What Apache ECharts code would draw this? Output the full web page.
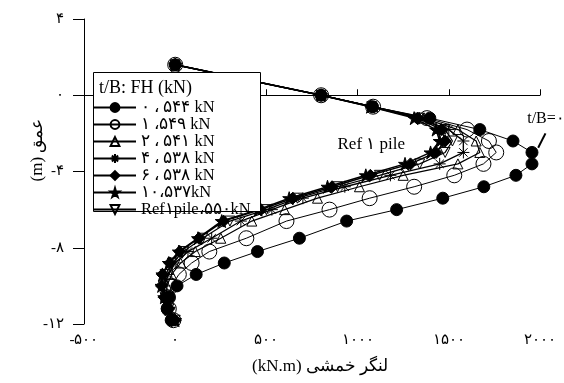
<!DOCTYPE html>
<html>
<head>
<meta charset="utf-8">
<script src="https://cdn.jsdelivr.net/npm/echarts@6/dist/echarts.min.js"></script>
<style>
  html, body { margin: 0; padding: 0; background: #fff; }
  #chart { width: 564px; height: 383px; }
</style>
</head>
<body>
<div id="chart"></div>
<script>
// Bending moment (kN.m) along the pile depth (m) for several t/B ratios
const depths = [1.6, 0, -0.6, -1.2, -1.8, -2.4, -3.0, -3.6, -4.2, -4.8, -5.4, -6.0, -6.6, -7.5, -8.2, -8.8, -9.4, -10.0, -10.6, -11.2, -11.8];

const tb0  = [0, 800, 1082, 1396, 1670, 1852, 1956, 1956, 1868, 1692, 1467, 1214, 940, 681, 451, 269, 115, 10, -33, -44, -22];
const tb1  = [0, 800, 1085, 1380, 1600, 1720, 1760, 1690, 1530, 1310, 1066, 846, 610, 390, 187, 90, 20, -20, -40, -35, -10];
const tb2  = [0, 800, 1085, 1360, 1550, 1650, 1670, 1550, 1250, 1010, 780, 600, 420, 250, 110, 30, -20, -45, -50, -35, -10];
const tb4  = [0, 800, 1080, 1340, 1500, 1580, 1580, 1450, 1180, 930, 700, 530, 360, 200, 70, 0, -40, -60, -60, -40, -5];
const tb6  = [0, 800, 1075, 1330, 1460, 1480, 1430, 1290, 1070, 860, 645, 470, 265, 130, 25, -30, -70, -75, -60, -35, 0];
const tb10 = [0, 800, 1070, 1310, 1430, 1450, 1400, 1260, 1045, 835, 625, 455, 255, 125, 20, -35, -70, -75, -60, -35, 0];
const ref1 = [0, 800, 1078, 1340, 1480, 1520, 1480, 1340, 1120, 890, 670, 500, 300, 150, 45, -15, -55, -65, -55, -35, 0];

const seriesNames = [
  '۰ ، ۵۴۴ kN',
  '۱ ،۵۴۹ kN',
  '۲ ، ۵۴۱ kN',
  '۴ ، ۵۳۸ kN',
  '۶ ، ۵۳۸ kN',
  '۱۰،۵۳۷kN',
  'Ref۱pile،۵۵۰kN'
];

const xTickLabels = { '-500': '-۵۰۰', '0': '۰', '500': '۵۰۰', '1000': '۱۰۰۰', '1500': '۱۵۰۰', '2000': '۲۰۰۰' };
const yTickLabels = { '4': '۴', '0': '۰', '-4': '-۴', '-8': '-۸', '-12': '-۱۲' };

const legendTitle = 't/B: FH (kN)';
const refLabel = 'Ref ۱ pile';
const tbLabel = 't/B=۰';
const xName = '(kN.m) لنگر خمشی';
const yName = '(m) عمق';

const SERIF = '"Liberation Serif", "DejaVu Serif", serif';

const pairs = vals => vals.map((v, i) => [v, depths[i]]);

const asteriskPath = 'path://M5,0 L5,10 M0,5 L10,5 M1.5,1.5 L8.5,8.5 M8.5,1.5 L1.5,8.5';
const starPath = 'path://M50,0 L61,35 L98,35 L68,57 L79,91 L50,70 L21,91 L32,57 L2,35 L39,35 Z';
const downTriPath = 'path://M0,0 L10,0 L5,9 Z';

function lineSeries(name, vals, symbol, size, filled, width) {
  return {
    name: name,
    type: 'line',
    data: pairs(vals),
    symbol: symbol,
    symbolSize: size,
    showAllSymbol: true,
    lineStyle: { color: '#000', width: width },
    itemStyle: {
      color: filled ? '#000' : 'rgba(0,0,0,0)',
      borderColor: '#000',
      borderWidth: 1
    },
    emphasis: { disabled: true },
    animation: false,
    z: 2
  };
}

const chart = echarts.init(document.getElementById('chart'), null, { renderer: 'canvas' });

const option = {
  backgroundColor: '#fff',
  animation: false,
  grid: { left: 84, right: 24, top: 19, bottom: 59, containLabel: false },
  xAxis: {
    type: 'value',
    min: -500, max: 2000, interval: 500,
    axisLine: { show: true, lineStyle: { color: '#000', width: 1 } },
    axisTick: { show: true, inside: true, length: 6, lineStyle: { color: '#000' } },
    axisLabel: {
      color: '#000', fontFamily: SERIF, fontSize: 15, margin: 9,
      formatter: v => xTickLabels[String(v)] || ''
    },
    splitLine: { show: false }
  },
  yAxis: {
    type: 'value',
    min: -12, max: 4, interval: 4,
    axisLine: { show: true, onZero: false, lineStyle: { color: '#000', width: 1 } },
    axisTick: { show: true, inside: false, length: 11, lineStyle: { color: '#000' } },
    axisLabel: {
      color: '#000', fontFamily: SERIF, fontSize: 15, margin: 20,
      formatter: v => yTickLabels[String(v)] || ''
    },
    splitLine: { show: false }
  },
  legend: {
    orient: 'vertical',
    left: 93, top: 99,
    padding: 0,
    itemWidth: 42, itemHeight: 11,
    itemGap: 0,
    textStyle: { color: '#000', fontFamily: SERIF, fontSize: 16.5, lineHeight: 15.3 },
    data: seriesNames,
    z: 10
  },
  series: [
    lineSeries(seriesNames[6], ref1, downTriPath, 10, false, 1.2),
    lineSeries(seriesNames[1], tb1, 'circle', 15, false, 1),
    lineSeries(seriesNames[2], tb2, 'triangle', 10, false, 1.2),
    lineSeries(seriesNames[3], tb4, asteriskPath, 12, false, 1.3),
    lineSeries(seriesNames[5], tb10, starPath, 13, true, 1.5),
    lineSeries(seriesNames[4], tb6, 'diamond', 12, true, 1.5),
    lineSeries(seriesNames[0], tb0, 'circle', 12, true, 1)
  ]
};

chart.setOption(option);

// Legend frame, title and text annotations placed from data coordinates
const toPx = (x, y) => chart.convertToPixel({ gridIndex: 0 }, [x, y]);
const refPos = toPx(890, -2.6);
const tbPos = toPx(1930, -1.25);
const leadA = toPx(2030, -2.0);
const leadB = toPx(1990, -2.75);

chart.setOption({
  graphic: [
    {
      type: 'rect', z: 5, silent: true,
      shape: { x: 93.5, y: 72.5, width: 167, height: 139 },
      style: { fill: '#fff', stroke: '#000', lineWidth: 1 }
    },
    {
      type: 'text', z: 11, silent: true,
      x: 99, y: 88,
      style: { text: legendTitle, fill: '#000', font: '18px ' + SERIF, verticalAlign: 'middle', align: 'left' }
    },
    {
      type: 'text', z: 11, silent: true,
      x: refPos[0], y: refPos[1],
      style: { text: refLabel, fill: '#000', font: '17px ' + SERIF, verticalAlign: 'middle', align: 'left' }
    },
    {
      type: 'text', z: 11, silent: true,
      x: tbPos[0], y: tbPos[1],
      style: { text: tbLabel, fill: '#000', font: '16px ' + SERIF, verticalAlign: 'middle', align: 'left' }
    },
    {
      type: 'line', z: 11, silent: true,
      shape: { x1: leadA[0], y1: leadA[1], x2: leadB[0], y2: leadB[1] },
      style: { stroke: '#000', lineWidth: 2 }
    },
    {
      type: 'text', z: 11, silent: true,
      x: 320, y: 367,
      style: { text: xName, fill: '#000', font: '17px ' + SERIF, verticalAlign: 'middle', align: 'center' }
    },
    {
      type: 'text', z: 11, silent: true,
      x: 38, y: 150, rotation: Math.PI / 2,
      style: { text: yName, fill: '#000', font: '17px ' + SERIF, verticalAlign: 'middle', align: 'center' }
    }
  ]
});
</script>
</body>
</html>
